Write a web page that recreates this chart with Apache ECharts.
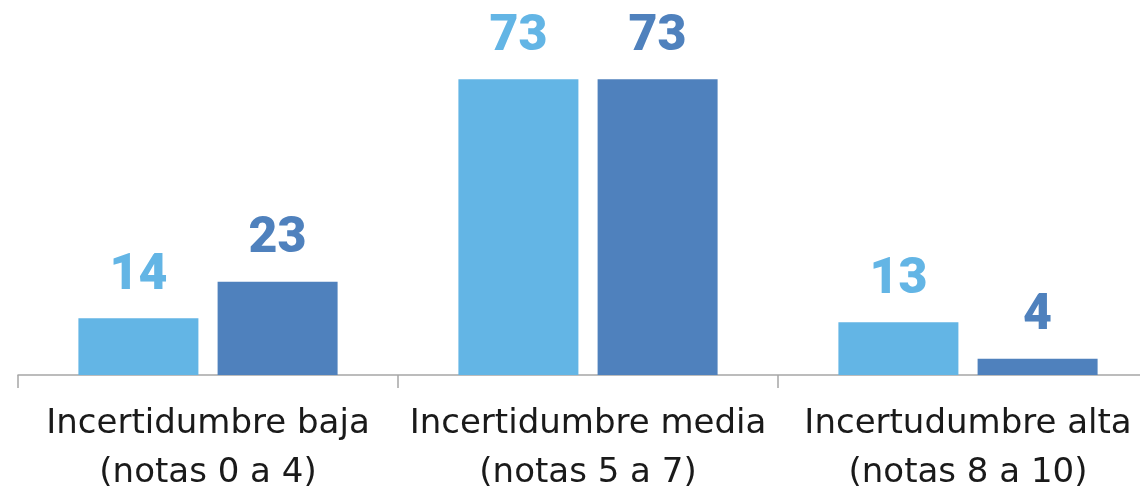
<!DOCTYPE html>
<html><head><meta charset="utf-8">
<script src="https://cdn.jsdelivr.net/npm/echarts@6/dist/echarts.min.js"></script>
<style>html,body{margin:0;padding:0;background:#fff}#c{width:1140px;height:493px}</style>
</head><body><div id="c"></div>
<script>
const categories = ['Incertidumbre baja\n(notas 0 a 4)', 'Incertidumbre media\n(notas 5 a 7)', 'Incertudumbre alta\n(notas 8 a 10)'];
const seriesA = [14, 73, 13];
const seriesB = [23, 73, 4];
const colorA = '#63B5E5';
const colorB = '#4F81BD';
const chart = echarts.init(document.getElementById('c'), null, {renderer: 'canvas'});
const lbl = (c) => ({show: true, position: 'top', distance: 17, color: c, fontSize: 50, fontWeight: 900, fontFamily: 'Roboto'});
chart.setOption({
  animation: false,
  grid: {left: 18, width: 1140, top: 51, bottom: 118, containLabel: false, outerBoundsMode: 'none'},
  xAxis: {
    type: 'category', data: categories,
    axisLine: {lineStyle: {color: '#A6A6A6', width: 1.5}},
    axisTick: {show: true, length: 13, lineStyle: {color: '#A6A6A6', width: 1.5}},
    axisLabel: {color: '#1a1a1a', fontSize: 34, fontFamily: 'DejaVu Sans', lineHeight: 49, margin: 25, interval: 0}
  },
  yAxis: {type: 'value', min: 0, max: 80, show: false, splitLine: {show: false}},
  series: [
    {type: 'bar', data: seriesA, barWidth: 120, barGap: '16%', itemStyle: {color: colorA}, label: lbl(colorA)},
    {type: 'bar', data: seriesB, barWidth: 120, barGap: '16%', itemStyle: {color: colorB}, label: lbl(colorB)}
  ]
});
</script></body></html>
